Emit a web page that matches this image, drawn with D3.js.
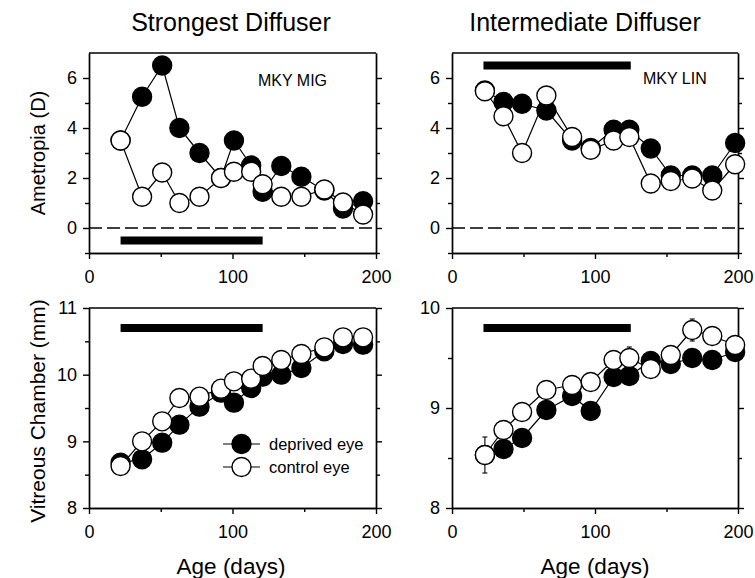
<!DOCTYPE html>
<html lang="en">
<head>
    <meta charset="UTF-8">
    <title>Diffuser ametropia and vitreous chamber</title>
    <script src="https://d3js.org/d3.v7.min.js"></script>
    <style>
        body { margin: 0; background: #fff; }
        svg { display: block; font-family: "Liberation Sans", Arial, sans-serif; }
        .axis path, .axis line { stroke: #000; stroke-width: 1.4px; }
        .axis text { font-size: 18px; fill: #000; font-family: "Liberation Sans", Arial, sans-serif; }
        .series-line { fill: none; stroke: #000; stroke-width: 1.2px; }
    </style>
</head>
<body>
    <svg width="755" height="578"></svg>

    <script>
        // ---- data ----
        const titles = ['Strongest Diffuser', 'Intermediate Diffuser'];
        const animalLabels = ['MKY MIG', 'MKY LIN'];
        const seriesNames = ['deprived eye', 'control eye'];

        // MKY MIG (strongest diffuser)
        const migDays = [22, 37, 51, 63, 77, 92, 101, 113, 121, 134, 148, 164, 177, 191];
        const migRefDeprived = [3.5, 5.25, 6.5, 4.0, 3.0, 2.0, 3.5, 2.5, 1.45, 2.48, 2.05, 1.5, 0.78, 1.07];
        const migRefControl = [3.5, 1.25, 2.22, 1.0, 1.25, 2.0, 2.25, 2.25, 1.75, 1.25, 1.25, 1.54, 1.02, 0.54];
        const migVcDeprived = [8.68, 8.73, 8.98, 9.25, 9.52, 9.73, 9.58, 9.8, 9.97, 10.0, 10.1, 10.35, 10.46, 10.45];
        const migVcControl = [8.63, 9.0, 9.3, 9.65, 9.67, 9.79, 9.9, 9.94, 10.13, 10.22, 10.31, 10.41, 10.56, 10.56];
        const migTreatment = [22, 121];

        // MKY LIN (intermediate diffuser)
        const linDays = [23, 36, 49, 66, 84, 97, 113, 124, 139, 153, 168, 182, 198];
        const linRefDeprived = [5.5, 5.04, 4.97, 4.7, 3.5, 3.2, 3.93, 3.93, 3.18, 2.1, 2.1, 2.1, 3.4];
        const linRefControl = [5.47, 4.47, 3.0, 5.3, 3.64, 3.13, 3.5, 3.64, 1.78, 1.88, 1.98, 1.5, 2.55];
        const linVcDeprived = [8.53, 8.59, 8.7, 8.98, 9.12, 8.97, 9.31, 9.32, 9.47, 9.44, 9.5, 9.48, 9.56];
        const linVcControl = [8.53, 8.78, 8.96, 9.18, 9.23, 9.26, 9.48, 9.5, 9.39, 9.53, 9.78, 9.72, 9.63];
        const linVcControlErr = [0.18, 0, 0, 0, 0, 0, 0, 0.11, 0, 0, 0.11, 0, 0];
        const linTreatment = [22, 125];

        // ---- layout ----
        const svg = d3.select('svg');
        const R = 9.5;

        const panels = [
            { left: 89, right: 376, top: 53, bottom: 253, yDomain: [-1, 7], yMajor: [0, 2, 4, 6], yMinor: [-1, 1, 3, 5],
              days: migDays, dep: migRefDeprived, ctl: migRefControl, bar: migTreatment, barY: -0.5, zero: true,
              tag: animalLabels[0], tagX: 258, tagY: 86 },
            { left: 452, right: 738, top: 53, bottom: 253, yDomain: [-1, 7], yMajor: [0, 2, 4, 6], yMinor: [-1, 1, 3, 5],
              days: linDays, dep: linRefDeprived, ctl: linRefControl, bar: linTreatment, barY: 6.5, zero: true,
              tag: animalLabels[1], tagX: 643, tagY: 84 },
            { left: 89, right: 376, top: 308, bottom: 508, yDomain: [8, 11], yMajor: [8, 9, 10, 11], yMinor: [8.5, 9.5, 10.5],
              days: migDays, dep: migVcDeprived, ctl: migVcControl, bar: migTreatment, barY: 10.7, legend: true },
            { left: 452, right: 738, top: 308, bottom: 508, yDomain: [8, 10], yMajor: [8, 9, 10], yMinor: [8.5, 9.5],
              days: linDays, dep: linVcDeprived, ctl: linVcControl, err: linVcControlErr, bar: linTreatment, barY: 9.8 }
        ];

        panels.forEach(p => {
            const x = d3.scaleLinear().domain([0, 200]).range([p.left, p.right]);
            const y = d3.scaleLinear().domain(p.yDomain).range([p.bottom, p.top]);
            const g = svg.append('g');

            // axes
            g.append('g').attr('class', 'axis')
                .attr('transform', `translate(0,${p.bottom})`)
                .call(d3.axisBottom(x).tickValues([0, 100, 200]).tickSize(6).tickSizeOuter(0).tickPadding(11));
            g.append('g').attr('class', 'axis')
                .attr('transform', `translate(0,${p.bottom})`)
                .call(d3.axisBottom(x).tickValues([50, 150]).tickSize(4).tickSizeOuter(0).tickFormat(''));
            g.append('g').attr('class', 'axis')
                .attr('transform', `translate(${p.left},0)`)
                .call(d3.axisLeft(y).tickValues(p.yMajor).tickSize(6).tickSizeOuter(0).tickPadding(6)
                    .tickFormat(d3.format('d')));
            g.append('g').attr('class', 'axis')
                .attr('transform', `translate(${p.left},0)`)
                .call(d3.axisLeft(y).tickValues(p.yMinor).tickSize(4).tickSizeOuter(0).tickFormat(''));
            g.append('g').attr('class', 'axis')
                .attr('transform', `translate(${p.right},0)`)
                .call(d3.axisRight(y).tickValues(p.yMajor).tickSize(6).tickSizeOuter(0).tickFormat(''));
            g.append('g').attr('class', 'axis')
                .attr('transform', `translate(${p.right},0)`)
                .call(d3.axisRight(y).tickValues(p.yMinor).tickSize(4).tickSizeOuter(0).tickFormat(''));
            g.append('line')
                .attr('x1', p.left).attr('x2', p.right)
                .attr('y1', p.top).attr('y2', p.top)
                .attr('stroke', '#000').attr('stroke-width', 1.4);

            if (p.zero) {
                g.append('line')
                    .attr('x1', x(0)).attr('x2', x(200))
                    .attr('y1', y(0)).attr('y2', y(0))
                    .attr('stroke', '#000').attr('stroke-width', 1.4)
                    .attr('stroke-dasharray', '13,5');
            }

            // treatment bar
            g.append('rect')
                .attr('x', x(p.bar[0])).attr('width', x(p.bar[1]) - x(p.bar[0]))
                .attr('y', y(p.barY) - 4).attr('height', 8)
                .attr('fill', '#000');

            if (p.tag) {
                g.append('text').attr('x', p.tagX).attr('y', p.tagY)
                    .attr('font-size', 16).text(p.tag);
            }

            const line = d3.line().x(d => x(d.day)).y(d => y(d.v));
            const dep = p.days.map((d, i) => ({ day: d, v: p.dep[i] }));
            const ctl = p.days.map((d, i) => ({ day: d, v: p.ctl[i], e: p.err ? p.err[i] : 0 }));

            // deprived eye first, control drawn on top
            g.append('path').datum(dep).attr('class', 'series-line').attr('d', line);
            g.selectAll('.dep').data(dep).enter().append('circle')
                .attr('cx', d => x(d.day)).attr('cy', d => y(d.v)).attr('r', R)
                .attr('fill', '#000').attr('stroke', '#000').attr('stroke-width', 1.4);

            g.append('path').datum(ctl).attr('class', 'series-line').attr('d', line);
            const eb = ctl.filter(d => d.e > 0);
            g.selectAll('.err').data(eb).enter().append('line')
                .attr('x1', d => x(d.day)).attr('x2', d => x(d.day))
                .attr('y1', d => y(d.v - d.e)).attr('y2', d => y(d.v + d.e))
                .attr('stroke', '#000').attr('stroke-width', 1.1);
            eb.forEach(d => {
                [d.v - d.e, d.v + d.e].forEach(v => {
                    g.append('line')
                        .attr('x1', x(d.day) - 2.5).attr('x2', x(d.day) + 2.5)
                        .attr('y1', y(v)).attr('y2', y(v))
                        .attr('stroke', '#000').attr('stroke-width', 1.1);
                });
            });
            g.selectAll('.ctl').data(ctl).enter().append('circle')
                .attr('cx', d => x(d.day)).attr('cy', d => y(d.v)).attr('r', R)
                .attr('fill', '#fff').attr('stroke', '#000').attr('stroke-width', 1.4);

            if (p.legend) {
                const lg = g.append('g').attr('transform', 'translate(223,444)');
                seriesNames.forEach((name, i) => {
                    const row = lg.append('g').attr('transform', `translate(0,${i * 23})`);
                    row.append('line').attr('x1', 0).attr('x2', 37).attr('y1', 0).attr('y2', 0)
                        .attr('stroke', '#000').attr('stroke-width', 1.2);
                    row.append('circle').attr('cx', 18.5).attr('cy', 0).attr('r', R)
                        .attr('fill', i === 0 ? '#000' : '#fff')
                        .attr('stroke', '#000').attr('stroke-width', 1.4);
                    row.append('text').attr('x', 46).attr('y', 5.5)
                        .attr('font-size', 16.5).text(name);
                });
            }
        });

        // titles and axis labels
        svg.append('text').attr('x', 231).attr('y', 31).attr('text-anchor', 'middle')
            .attr('font-size', 25).text(titles[0]);
        svg.append('text').attr('x', 585).attr('y', 31).attr('text-anchor', 'middle')
            .attr('font-size', 25).text(titles[1]);

        svg.append('text').attr('transform', 'translate(45,153) rotate(-90)')
            .attr('text-anchor', 'middle').attr('font-size', 20).text('Ametropia (D)');
        svg.append('text').attr('transform', 'translate(45,411) rotate(-90)')
            .attr('text-anchor', 'middle').attr('font-size', 21).text('Vitreous Chamber (mm)');

        svg.append('text').attr('x', 231).attr('y', 574).attr('text-anchor', 'middle')
            .attr('font-size', 22.5).text('Age (days)');
        svg.append('text').attr('x', 595).attr('y', 574).attr('text-anchor', 'middle')
            .attr('font-size', 22.5).text('Age (days)');
    </script>
</body>
</html>
